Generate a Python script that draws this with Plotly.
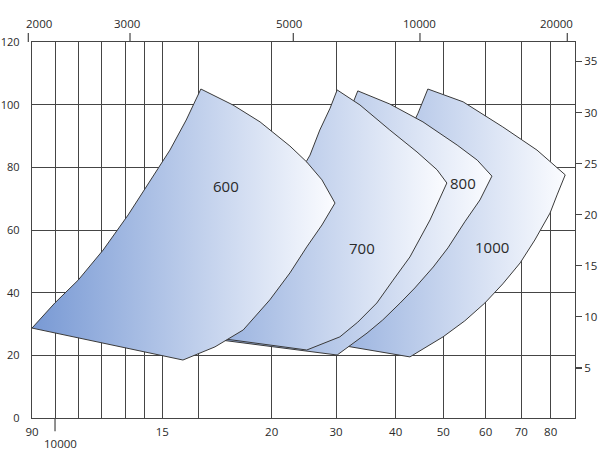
import plotly.graph_objects as go

# ---- data (x: relative flow position 0-100 across the chart, y: head in ft) ----
x_600 = [0, 4.2, 8.5, 13.1, 17.7, 22.1, 25.4, 28.4, 31.1, 37.0, 42.0, 47.5, 50.6, 53.4, 55.8,
         53.4, 50.6, 47.5, 43.8, 38.9, 33.7, 27.8]
y_600 = [28.7, 36.7, 44.0, 53.6, 64.8, 76.6, 85.5, 95.1, 105.0, 99.9, 94.5, 86.8, 81.7, 76.0, 68.6,
         61.6, 54.6, 46.3, 37.7, 28.1, 22.7, 18.5]

x_700 = [20.6, 30.9, 39.2, 45.7, 49.4, 51.2, 53.0, 54.9, 56.2, 60.4, 65.9, 70.9, 74.6, 76.4,
         73.3, 69.6, 66.5, 63.5, 60.0, 56.7, 50.6]
y_700 = [28.7, 40.9, 55.2, 69.6, 78.5, 83.9, 91.9, 98.9, 104.7, 99.9, 91.9, 84.9, 79.2, 75.0,
         63.2, 51.4, 44.0, 36.7, 30.6, 25.9, 21.7]

x_800 = [28.9, 38.3, 45.7, 51.2, 54.9, 57.1, 58.6, 60.0, 65.9, 72.0, 78.3, 82.0, 84.7,
         82.5, 79.7, 76.6, 73.9, 70.5, 67.8, 64.6, 61.7, 56.2]
y_800 = [26.2, 40.9, 55.2, 69.6, 82.3, 91.9, 98.9, 104.4, 100.2, 94.5, 87.1, 82.3, 77.2,
         69.6, 62.6, 54.3, 48.2, 41.5, 36.7, 31.3, 27.1, 20.1]

x_1000 = [42.4, 49.4, 55.8, 61.3, 65.9, 68.7, 71.1, 72.9, 79.4, 86.7, 93.0, 98.2,
          96.7, 95.4, 92.6, 89.9, 86.7, 83.4, 79.7, 75.7, 69.6]
y_1000 = [27.5, 39.3, 53.6, 68.0, 80.7, 88.7, 97.3, 105.0, 100.9, 92.9, 85.5, 77.6,
          71.2, 65.4, 56.8, 49.5, 42.8, 36.7, 31.0, 25.9, 19.5]

model_names = ["1000", "800", "700", "600"]          # back to front
model_label_x = [84.7, 79.4, 60.8, 35.7]
model_label_y = [54.6, 75.0, 54.3, 74.0]

# bottom axis grid / tick labels
bottom_tickvals = [0, 4.24, 8.53, 12.84, 17.13, 20.63, 24.0, 30.63, 44.14, 55.99, 66.98, 75.75, 83.55, 90.11, 95.52]
bottom_ticktext = ["90", "", "", "", "", "", "15", "", "20", "30", "40", "50", "60", "70", "80"]
bottom_extra_label = "10000"
bottom_extra_pos = 4.24
bottom_extra_label_x = 5.25

# top axis (flow) ticks and labels
top_tick_pos = [-0.68, 18.05, 48.12, 71.45, 98.58]
top_label_pos = [1.29, 17.5, 47.33, 71.36, 96.5]
top_labels = ["2000", "3000", "5000", "10000", "20000"]

# left axis ft, right axis m
left_ticks = [0, 20, 40, 60, 80, 100, 120]
right_ticks = [5, 10, 15, 20, 25, 30, 35]

series = {
    "1000": (x_1000, y_1000),
    "800": (x_800, y_800),
    "700": (x_700, y_700),
    "600": (x_600, y_600),
}

FONT = "Liberation Sans Narrow, Open Sans, sans-serif"
LABEL_FONT = "Open Sans, Liberation Sans, sans-serif"
GRID = "#454545"
TXT = "#2a2a2a"
TICKFONT = dict(family=FONT, size=11.5, color=TXT)
LEFTFONT = dict(family=FONT, size=11, color=TXT)

fig = go.Figure()

for name in model_names:
    xs, ys = series[name]
    fig.add_trace(go.Scatter(
        x=xs + [xs[0]], y=ys + [ys[0]],
        mode="lines", fill="toself",
        fillgradient=dict(type="horizontal",
                          colorscale=[[0, "rgb(120,153,212)"], [1, "rgb(251,252,255)"]]),
        line=dict(color="#3a3a3a", width=1),
        hoverinfo="skip", showlegend=False, name=name,
    ))

# dummy trace for right axis
fig.add_trace(go.Scatter(x=[None], y=[None], yaxis="y2", showlegend=False, hoverinfo="skip"))

for name, lx, ly in zip(model_names, model_label_x, model_label_y):
    fig.add_annotation(x=lx, y=ly, xref="x", yref="y", text=name, showarrow=False,
                       xanchor="center", yanchor="middle",
                       font=dict(family=LABEL_FONT, size=15, color=TXT))

# top axis ticks & labels
for tp, lp, lab in zip(top_tick_pos, top_label_pos, top_labels):
    fig.add_shape(type="line", xref="paper", yref="paper", x0=tp / 100, x1=tp / 100,
                  y0=1.0, y1=1.024, line=dict(color=GRID, width=1.2))
    fig.add_annotation(x=lp, y=1.0505, xref="x", yref="paper", text=lab, showarrow=False,
                       xanchor="center", yanchor="middle", font=TICKFONT)

# extra bottom label (second row)
fig.add_shape(type="line", xref="x", yref="paper", x0=bottom_extra_pos, x1=bottom_extra_pos,
              y0=0, y1=-0.035, line=dict(color=GRID, width=1.2))
fig.add_annotation(x=bottom_extra_label_x, y=-0.0665, xref="x", yref="paper", text=bottom_extra_label,
                   showarrow=False, xanchor="center", yanchor="middle", font=TICKFONT)

fig.update_layout(
    width=600, height=451,
    margin=dict(l=32, r=25, t=42, b=33, autoexpand=False),
    paper_bgcolor="white", plot_bgcolor="white",
    font=dict(family=FONT, size=11.5, color=TXT),
    xaxis=dict(range=[0, 100], tickvals=bottom_tickvals, ticktext=bottom_ticktext,
               showgrid=True, gridcolor=GRID, gridwidth=1, zeroline=False,
               showline=True, mirror=True, linecolor=GRID, linewidth=1.2,
               ticks="", ticklabelstandoff=3, fixedrange=True, automargin=False,
               tickfont=TICKFONT),
    yaxis=dict(range=[0, 120], tickvals=left_ticks, showgrid=True, gridcolor=GRID, gridwidth=1,
               zeroline=False, showline=True, mirror=True, linecolor=GRID, linewidth=1.2,
               ticks="", ticklabelstandoff=9, fixedrange=True, automargin=False,
               tickfont=LEFTFONT),
    yaxis2=dict(range=[0.1, 36.9], overlaying="y", side="right", tickvals=right_ticks,
                showgrid=False, zeroline=False, showline=False, ticks="outside", ticklen=6,
                tickcolor=GRID, tickwidth=1.2, fixedrange=True, automargin=False,
                tickfont=TICKFONT),
)

fig.write_html("out.html", config={"displayModeBar": False, "staticPlot": True},
               post_script="document.body.style.margin='0';document.body.style.overflow='hidden';")
